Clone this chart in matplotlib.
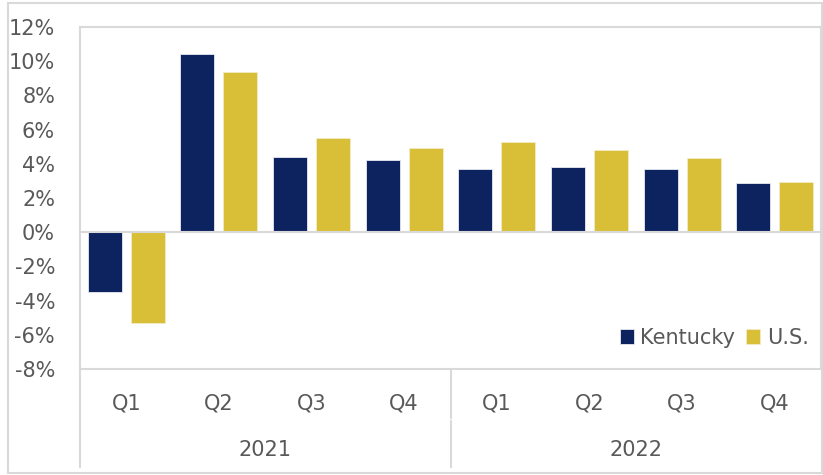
import numpy as np
import matplotlib
matplotlib.use("Agg")
from matplotlib import pyplot as plt
from matplotlib.patches import Rectangle
from matplotlib.ticker import PercentFormatter

quarters = ['Q1', 'Q2', 'Q3', 'Q4', 'Q1', 'Q2', 'Q3', 'Q4']
years = ['2021', '2022']
kentucky = [-3.5, 10.4, 4.4, 4.2, 3.7, 3.8, 3.7, 2.85]
us = [-5.3, 9.35, 5.5, 4.9, 5.3, 4.8, 4.35, 2.95]

navy = '#0D2360'
gold = '#D9BF37'
txt = '#595959'
grid_gray = '#D9D9D9'

W, H = 823, 475
fig = plt.figure(figsize=(W / 100, H / 100), dpi=100)
plt.rcParams['font.family'] = ['DejaVu Sans']
plt.rcParams['axes.unicode_minus'] = False

# outer chart border
fig.patches.append(Rectangle((8 / W, 2 / H), 814 / W, 470 / H, transform=fig.transFigure,
                             fill=False, edgecolor=grid_gray, linewidth=1.5))

ax = fig.add_axes([80 / W, (H - 369) / H, 741 / W, 342 / H])

x = np.arange(len(quarters))
off, bw = 0.232, 0.367
ax.bar(x - off, kentucky, bw, color=navy, edgecolor='#E8EAF0', linewidth=0.6, label='Kentucky', zorder=3)
ax.bar(x + off, us, bw, color=gold, edgecolor='#F3EBC4', linewidth=0.6, label='U.S.', zorder=3)

ax.set_xlim(-0.5, 7.5)
ax.set_ylim(-8, 12)
ax.set_yticks(np.arange(-8, 13, 2))
ax.yaxis.set_major_formatter(PercentFormatter(decimals=0))
ax.axhline(0, color=grid_gray, linewidth=1.5, zorder=4)

for s in ax.spines.values():
    s.set_color(grid_gray)
    s.set_linewidth(1.5)

ax.set_xticks(x)
ax.set_xticklabels(quarters)
ax.tick_params(axis='both', length=0, labelsize=15, colors=txt)
ax.tick_params(axis='x', pad=18)
ax.tick_params(axis='y', pad=18)

# year labels and separators below the axis
trans = ax.get_xaxis_transform()
for i, yr in enumerate(years):
    ax.text(1.5 + 4 * i, -0.237, yr, transform=trans, ha='center', va='center',
            fontsize=15, color=txt)
ax.plot([-0.5, -0.5], [0, -0.287], transform=trans, color=grid_gray, lw=1.5, clip_on=False)
ax.plot([3.5, 3.5], [0, -0.143], transform=trans, color=grid_gray, lw=1.5, clip_on=False)
ax.plot([3.5, 3.5], [-0.152, -0.287], transform=trans, color=grid_gray, lw=1.5, clip_on=False)

leg = ax.legend(loc='lower right', bbox_to_anchor=(1.0, 0.025), ncol=2, frameon=False,
                fontsize=15, handlelength=0.7, handleheight=0.7, handletextpad=0.3,
                columnspacing=0.5, borderaxespad=0.2)
for t in leg.get_texts():
    t.set_color(txt)

fig.savefig('out.png', dpi=100)
